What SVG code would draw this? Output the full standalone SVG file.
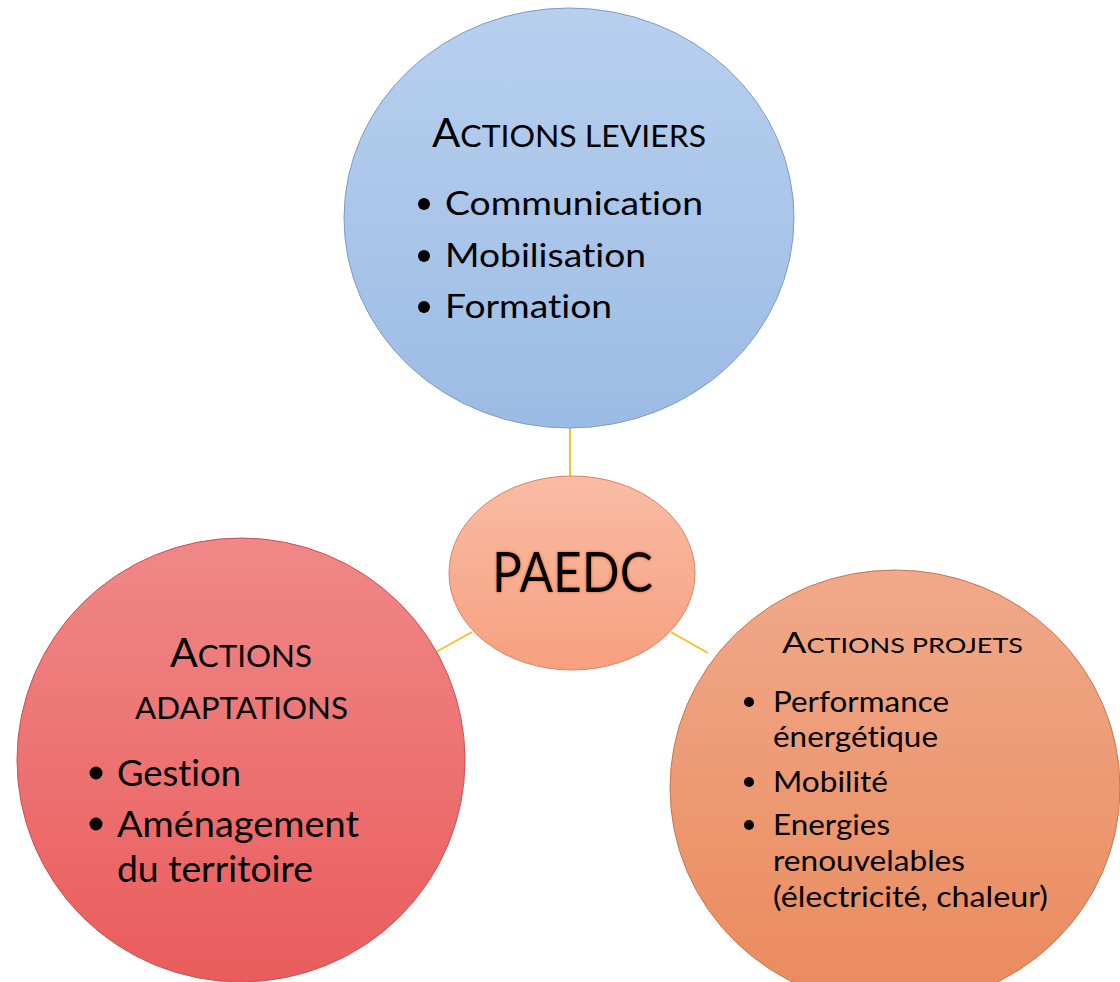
<svg xmlns="http://www.w3.org/2000/svg" width="1120" height="982" viewBox="0 0 1120 982">
<style>
.t{font-family:Lato,"Open Sans","Liberation Sans",sans-serif;fill:#000;font-variant-ligatures:none;font-feature-settings:"liga" 0,"clig" 0;}
.conn{stroke:#F5C02A;stroke-width:2;fill:none;}
</style>
<defs>
<linearGradient id="gBlue" x1="0" y1="0" x2="0" y2="1"><stop offset="0" stop-color="#B8D0EE"/><stop offset="1" stop-color="#9CBBE4"/></linearGradient>
<linearGradient id="gRed" x1="0" y1="0" x2="0" y2="1"><stop offset="0" stop-color="#F08888"/><stop offset="1" stop-color="#EA5C5C"/></linearGradient>
<linearGradient id="gOrange" x1="0" y1="0" x2="0" y2="1"><stop offset="0" stop-color="#F0A98A"/><stop offset="1" stop-color="#EA8A5C"/></linearGradient>
<linearGradient id="gCenter" x1="0" y1="0" x2="0" y2="1"><stop offset="0" stop-color="#F9BCA4"/><stop offset="1" stop-color="#F7A07F"/></linearGradient>
<filter id="glow" x="-20%" y="-20%" width="140%" height="140%"><feGaussianBlur in="SourceAlpha" stdDeviation="2"/><feOffset dx="1" dy="2"/><feFlood flood-color="#C24A1E" flood-opacity="0.7"/><feComposite operator="in" in2="SourceAlpha"/><feGaussianBlur stdDeviation="1.5"/><feMerge><feMergeNode/><feMergeNode in="SourceGraphic"/></feMerge></filter>
</defs>
<rect width="1120" height="982" fill="#fff"/>
<g id="connectors">
<line class="conn" x1="570" y1="428" x2="570" y2="478"/>
<line class="conn" x1="436" y1="652" x2="472" y2="632"/>
<line class="conn" x1="671" y1="632" x2="708" y2="653"/>
</g>
<g id="leviers">
<ellipse cx="569" cy="218" rx="225" ry="210" fill="url(#gBlue)" stroke="#7E9CC6" stroke-width="1"/>
<text class="t" x="432" y="147" textLength="274" lengthAdjust="spacingAndGlyphs"><tspan font-size="40">A</tspan><tspan font-size="30.5">CTIONS LEVIERS</tspan></text>
<circle cx="424" cy="204" r="6"/><circle cx="424" cy="256" r="6"/><circle cx="424" cy="307" r="6"/>
<text class="t" font-size="32" x="445" y="215" textLength="258" lengthAdjust="spacingAndGlyphs">Communication</text>
<text class="t" font-size="32" x="445" y="267" textLength="201" lengthAdjust="spacingAndGlyphs">Mobilisation</text>
<text class="t" font-size="32" x="445" y="318" textLength="167" lengthAdjust="spacingAndGlyphs">Formation</text>
</g>
<g id="adaptations">
<ellipse cx="241" cy="760" rx="224" ry="222" fill="url(#gRed)" stroke="#C95050" stroke-width="1"/>
<text class="t" x="170" y="667" textLength="142" lengthAdjust="spacingAndGlyphs"><tspan font-size="40">A</tspan><tspan font-size="30.5">CTIONS</tspan></text>
<text class="t" font-size="30.5" x="135" y="719" textLength="213" lengthAdjust="spacingAndGlyphs">ADAPTATIONS</text>
<circle cx="96" cy="773" r="6.5"/><circle cx="96" cy="824" r="6.5"/>
<text class="t" font-size="36" x="117" y="786" textLength="124" lengthAdjust="spacingAndGlyphs">Gestion</text>
<text class="t" font-size="36" x="117" y="837" textLength="242" lengthAdjust="spacingAndGlyphs">Aménagement</text>
<text class="t" font-size="36" x="117" y="882" textLength="196" lengthAdjust="spacingAndGlyphs">du territoire</text>
</g>
<g id="projets">
<ellipse cx="895" cy="788" rx="225" ry="218" fill="url(#gOrange)" stroke="#C9754E" stroke-width="1"/>
<text class="t" x="782" y="653" textLength="241" lengthAdjust="spacingAndGlyphs"><tspan font-size="28">A</tspan><tspan font-size="21">CTIONS PROJETS</tspan></text>
<circle cx="749" cy="702" r="5"/><circle cx="749" cy="782" r="5"/><circle cx="749" cy="825" r="5"/>
<text class="t" font-size="28" x="773" y="712" textLength="176" lengthAdjust="spacingAndGlyphs">Performance</text>
<text class="t" font-size="28" x="773" y="747" textLength="165" lengthAdjust="spacingAndGlyphs">énergétique</text>
<text class="t" font-size="28" x="773" y="792" textLength="115" lengthAdjust="spacingAndGlyphs">Mobilité</text>
<text class="t" font-size="28" x="773" y="835" textLength="117" lengthAdjust="spacingAndGlyphs">Energies</text>
<text class="t" font-size="28" x="773" y="871" textLength="192" lengthAdjust="spacingAndGlyphs">renouvelables</text>
<text class="t" font-size="28" x="773" y="907" textLength="275" lengthAdjust="spacingAndGlyphs">(électricité, chaleur)</text>
</g>
<g id="paedc">
<ellipse cx="572" cy="573" rx="123" ry="97" fill="url(#gCenter)" stroke="#D98466" stroke-width="1"/>
<text class="t" font-size="56" x="492" y="592" textLength="161" lengthAdjust="spacingAndGlyphs" filter="url(#glow)">PAEDC</text>
</g>
</svg>
